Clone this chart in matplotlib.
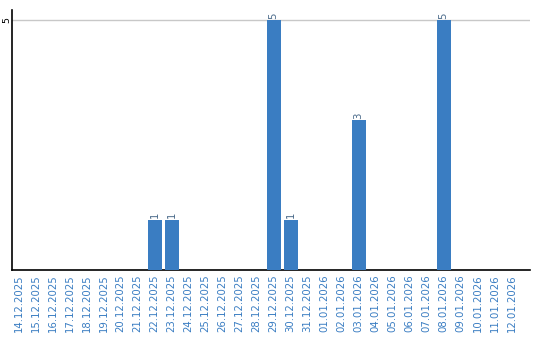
import matplotlib
matplotlib.use("Agg")
import matplotlib.pyplot as plt

dates = ["14.12.2025", "15.12.2025", "16.12.2025", "17.12.2025", "18.12.2025",
         "19.12.2025", "20.12.2025", "21.12.2025", "22.12.2025", "23.12.2025",
         "24.12.2025", "25.12.2025", "26.12.2025", "27.12.2025", "28.12.2025",
         "29.12.2025", "30.12.2025", "31.12.2025", "01.01.2026", "02.01.2026",
         "03.01.2026", "04.01.2026", "05.01.2026", "06.01.2026", "07.01.2026",
         "08.01.2026", "09.01.2026", "10.01.2026", "11.01.2026", "12.01.2026"]
values = [0, 0, 0, 0, 0, 0, 0, 0, 1, 1,
          0, 0, 0, 0, 0, 5, 1, 0, 0, 0,
          3, 0, 0, 0, 0, 5, 0, 0, 0, 0]

bar_color = "#3a7dc2"
text_color = "#3a7dc2"

fig = plt.figure(figsize=(5.4, 3.4), dpi=100)
ax = fig.add_axes([11.5/540, 70/340, 518.5/540, 260/340])

x = list(range(len(dates)))
bars = ax.bar(x, values, width=0.82, color=bar_color, zorder=3)
for xi, v in zip(x, values):
    if v > 0:
        ax.text(xi, v + 0.03, str(v), rotation=90, ha="center", va="bottom",
                fontsize=7.3, color="#4a6a8a", zorder=4)

ax.set_xlim(-0.42, 30.08)
ax.set_ylim(0, 5.2)
ax.set_yticks([5])
ax.set_yticklabels(["5"], rotation=90, va="center", fontsize=6.8)
ax.axhline(5, color="#c8c8c8", lw=1, zorder=1)
ax.set_xticks(x)
ax.set_xticklabels(dates, rotation=90, fontsize=7.3, color=text_color)
ax.tick_params(axis="both", length=0, pad=3)
ax.tick_params(axis="y", pad=0)
for s in ["top", "right"]:
    ax.spines[s].set_visible(False)
ax.spines["left"].set_linewidth(1.2)
ax.spines["bottom"].set_linewidth(1.2)

fig.savefig("out.png", dpi=100)
